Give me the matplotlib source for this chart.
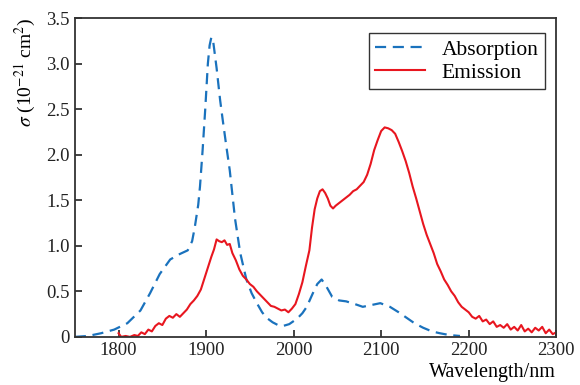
import matplotlib
matplotlib.use("Agg")
import matplotlib.pyplot as plt

plt.rcParams['font.family'] = ['Liberation Serif', 'DejaVu Serif']
plt.rcParams['mathtext.fontset'] = 'stix'

# absorption cross-section (dashed)
abs_wl = [1750, 1765, 1780, 1795, 1810, 1825, 1836, 1847, 1859, 1870, 1879,
          1884, 1887, 1891, 1893, 1896, 1899, 1902, 1904, 1906, 1908, 1912,
          1916, 1919, 1923, 1927, 1933, 1939, 1946, 1952, 1958, 1964, 1969,
          1976, 1982, 1988, 1995, 2004, 2010, 2015, 2022, 2027, 2032, 2037,
          2044, 2052, 2060, 2070, 2079, 2089, 2099, 2110, 2120, 2129, 2138,
          2148, 2158, 2167, 2178, 2190]
abs_sig = [0.0, 0.01, 0.04, 0.08, 0.15, 0.29, 0.48, 0.69, 0.85, 0.91, 0.95,
           1.05, 1.2, 1.45, 1.65, 2.05, 2.5, 3.0, 3.2, 3.29, 3.25, 2.95,
           2.6, 2.38, 2.1, 1.83, 1.3, 0.92, 0.63, 0.48, 0.37, 0.27, 0.21,
           0.16, 0.13, 0.12, 0.14, 0.2, 0.26, 0.33, 0.48, 0.58, 0.63, 0.56,
           0.44, 0.4, 0.39, 0.36, 0.33, 0.35, 0.37, 0.33, 0.27, 0.21, 0.15,
           0.1, 0.06, 0.04, 0.02, 0.01]

# emission cross-section (solid)
em_wl = [1800, 1803, 1808, 1813, 1818, 1822, 1826, 1830, 1834, 1838, 1842,
         1846, 1850, 1854, 1858, 1862, 1866, 1870, 1874, 1878, 1882, 1886,
         1890, 1894, 1898, 1902, 1906, 1909, 1912, 1915, 1918, 1921, 1924,
         1927, 1930, 1934, 1938, 1942, 1946, 1950, 1954, 1958, 1962, 1966,
         1970, 1974, 1978, 1982, 1986, 1990, 1994, 1998, 2002, 2006, 2010,
         2014, 2018, 2021, 2024, 2027, 2030, 2033, 2036, 2039, 2042, 2045,
         2048, 2052, 2056, 2060, 2064, 2068, 2072, 2076, 2080, 2084, 2088,
         2092, 2096, 2100, 2104, 2108, 2112, 2116, 2120, 2124, 2128, 2132,
         2136, 2140, 2144, 2148, 2152, 2156, 2160, 2164, 2168, 2172, 2176,
         2180, 2184, 2188, 2192, 2196, 2200, 2204, 2208, 2212, 2216, 2220,
         2224, 2228, 2232, 2236, 2240, 2244, 2248, 2252, 2256, 2260, 2264,
         2268, 2272, 2276, 2280, 2284, 2288, 2292, 2296, 2300]
em_sig = [0.04, 0.0, 0.01, 0.0, 0.02, 0.01, 0.05, 0.03, 0.08, 0.06, 0.12,
          0.15, 0.13, 0.2, 0.23, 0.21, 0.25, 0.22, 0.26, 0.3, 0.36, 0.4,
          0.45, 0.52, 0.64, 0.76, 0.88, 0.96, 1.07, 1.05, 1.04, 1.06, 1.01,
          1.02, 0.92, 0.84, 0.74, 0.67, 0.63, 0.58, 0.55, 0.5, 0.46, 0.42,
          0.38, 0.34, 0.33, 0.31, 0.29, 0.3, 0.27, 0.31, 0.36, 0.47, 0.6,
          0.78, 0.95, 1.2, 1.4, 1.52, 1.6, 1.62, 1.58, 1.52, 1.44, 1.41,
          1.44, 1.47, 1.5, 1.53, 1.56, 1.6, 1.62, 1.66, 1.7, 1.78, 1.9,
          2.05, 2.16, 2.26, 2.3, 2.29, 2.27, 2.23, 2.14, 2.04, 1.93, 1.8,
          1.65, 1.52, 1.38, 1.24, 1.12, 1.02, 0.92, 0.8, 0.72, 0.63, 0.57,
          0.5, 0.45, 0.38, 0.33, 0.3, 0.27, 0.22, 0.2, 0.23, 0.17, 0.19,
          0.14, 0.17, 0.11, 0.13, 0.1, 0.14, 0.08, 0.11, 0.07, 0.13, 0.06,
          0.09, 0.05, 0.1, 0.07, 0.11, 0.04, 0.08, 0.03, 0.05]

xticks = [1800, 1900, 2000, 2100, 2200, 2300]
yticks = [0, 0.5, 1.0, 1.5, 2.0, 2.5, 3.0, 3.5]
ytick_labels = ['0', '0.5', '1.0', '1.5', '2.0', '2.5', '3.0', '3.5']

fig = plt.figure(figsize=(5.8, 3.85), dpi=100)
ax = fig.add_axes([0.129, 0.125, 0.83, 0.828])

ax.plot(abs_wl, abs_sig, color='#1a72bd', lw=1.6, ls=(0, (5, 3)), label='Absorption')
ax.plot(em_wl, em_sig, color='#e8161f', lw=1.5, label='Emission')

ax.set_xlim(1750, 2300)
ax.set_ylim(0, 3.5)
ax.set_xticks(xticks)
ax.set_yticks(yticks)
ax.set_yticklabels(ytick_labels)
ax.tick_params(direction='in', length=5, width=1.2, labelsize=13.5, colors='#222222')
for s in ax.spines.values():
    s.set_linewidth(1.3)
    s.set_color('#333333')

ax.set_xlabel('Wavelength/nm', fontsize=14.5, loc='right', labelpad=3)
ax.set_ylabel(r'$\sigma$ (10$^{-21}$ cm$^2$)', fontsize=14, loc='top', labelpad=6)

leg = ax.legend(loc='upper right', bbox_to_anchor=(0.977, 0.953), fontsize=15.5,
                fancybox=False, framealpha=1, edgecolor='#333333',
                handlelength=2.3, borderpad=0.3, labelspacing=0.15,
                borderaxespad=0)
leg.get_frame().set_linewidth(1.0)

fig.savefig('out.png', dpi=100)
